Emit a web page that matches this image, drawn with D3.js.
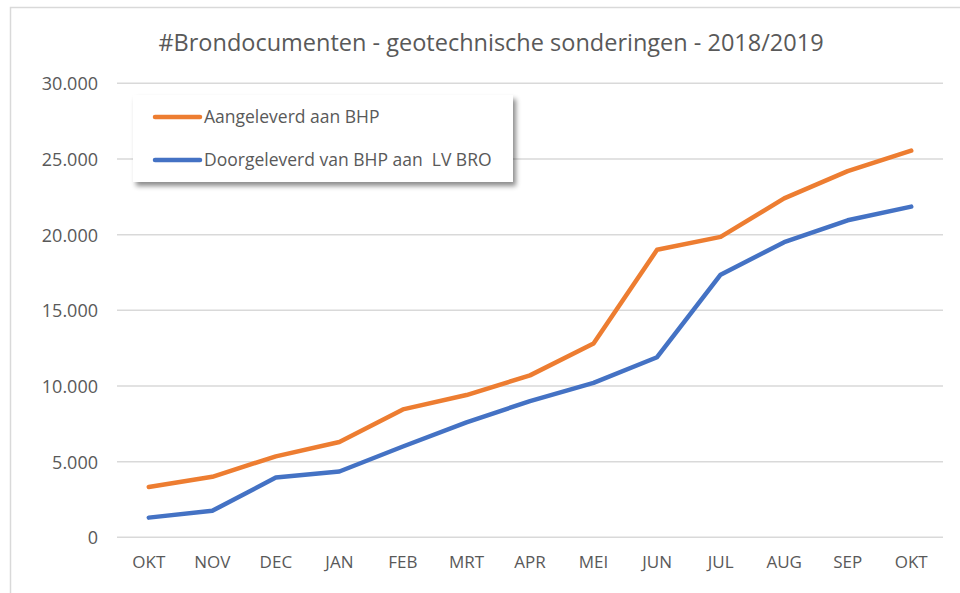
<!DOCTYPE html>
<html><head><meta charset="utf-8">
<script src="https://cdn.jsdelivr.net/npm/d3@7"></script>
<style>body{margin:0;background:#fff}svg{display:block}</style>
</head><body>
<svg id="c" width="960" height="593"></svg>
<script>
const months = ["OKT","NOV","DEC","JAN","FEB","MRT","APR","MEI","JUN","JUL","AUG","SEP","OKT"];
const aangeleverd = [3330, 4000, 5350, 6300, 8450, 9400, 10700, 12800, 19000, 19850, 22400, 24200, 25550];
const doorgeleverd = [1300, 1750, 3950, 4350, 6000, 7600, 9000, 10200, 11900, 17350, 19500, 20950, 21850];
const yTicks = [0, 5000, 10000, 15000, 20000, 25000, 30000];
const seriesNames = ["Aangeleverd aan BHP", "Doorgeleverd van BHP aan  LV BRO"];
const titleText = "#Brondocumenten - geotechnische sonderingen - 2018/2019";

(function () {
const svg = d3.select("#c");
const font = "'Open Sans', sans-serif";
const txt = "#595959";
const colors = ["#ED7D31", "#4472C4"];

// outer frame
svg.append("rect").attr("x", 10.5).attr("y", 7.5).attr("width", 980).attr("height", 620)
  .attr("fill", "#fff").attr("stroke", "#d9d9d9").attr("stroke-width", 1.5);

const pl = 117, pr = 943, pt = 83.3, pb = 537.3;
const x = d3.scaleBand().domain(d3.range(months.length)).range([pl, pr]);
const y = d3.scaleLinear().domain([0, 30000]).range([pb, pt]);
const fmt = v => v === 0 ? "0" : d3.format(",")(v).replace(/,/g, ".");

// gridlines
svg.append("g").selectAll("line").data(yTicks).join("line")
  .attr("x1", pl).attr("x2", pr)
  .attr("y1", d => y(d)).attr("y2", d => y(d))
  .attr("stroke", "#d9d9d9").attr("stroke-width", 1.5);

// y labels
const yAxis = svg.append("g").attr("transform", `translate(${pl},0)`)
  .call(d3.axisLeft(y).tickValues(yTicks).tickFormat(fmt).tickSize(0).tickPadding(19));
yAxis.select(".domain").remove();
yAxis.selectAll("text").attr("font-family", font).attr("font-size", 18).attr("fill", txt).attr("dy", "0.36em");

// x labels
const xAxis = svg.append("g").attr("transform", `translate(0,${pb})`)
  .call(d3.axisBottom(x).tickFormat(i => months[i]).tickSize(0).tickPadding(19));
xAxis.select(".domain").remove();
xAxis.selectAll("text").attr("font-family", font).attr("font-size", 17).attr("fill", txt);

// lines
const line = d3.line().x((d, i) => x(i) + x.bandwidth() / 2).y(d => y(d));
[aangeleverd, doorgeleverd].forEach((s, k) => {
  svg.append("path").attr("d", line(s)).attr("fill", "none")
    .attr("stroke", colors[k]).attr("stroke-width", 4.5)
    .attr("stroke-linejoin", "round").attr("stroke-linecap", "round");
});

// title
svg.append("text").attr("x", 491).attr("y", 51).attr("text-anchor", "middle")
  .attr("font-family", font).attr("font-size", 23.5).attr("fill", txt).text(titleText);

// legend
const defs = svg.append("defs");
const f = defs.append("filter").attr("id", "sh").attr("x", "-10%").attr("y", "-10%").attr("width", "130%").attr("height", "140%");
f.append("feDropShadow").attr("dx", 3).attr("dy", 4).attr("stdDeviation", 2.5)
  .attr("flood-color", "#000").attr("flood-opacity", 0.45);
const lg = svg.append("g");
lg.append("rect").attr("x", 133).attr("y", 95).attr("width", 380).attr("height", 87)
  .attr("fill", "#fff").attr("filter", "url(#sh)");
seriesNames.forEach((n, k) => {
  const yy = 117 + k * 43;
  lg.append("line").attr("x1", 155).attr("x2", 200).attr("y1", yy).attr("y2", yy)
    .attr("stroke", colors[k]).attr("stroke-width", 4.5).attr("stroke-linecap", "round");
  lg.append("text").attr("x", 204).attr("y", yy + 6).attr("font-family", font)
    .attr("font-size", 17.5).attr("fill", txt).style("white-space", "pre").text(n);
});
})();
</script>
</body></html>
